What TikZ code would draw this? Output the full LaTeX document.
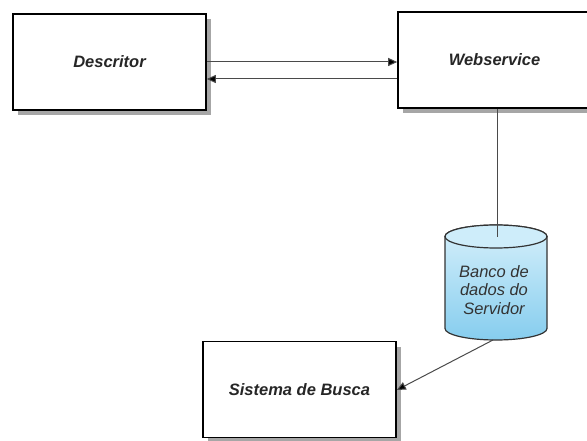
\documentclass[tikz,border=0pt]{standalone}
\usepackage{fontspec}
\setmainfont{Liberation Sans}
\usetikzlibrary{shadows,arrows.meta}
\definecolor{cylTop}{HTML}{D6F0FB}
\definecolor{cylBot}{HTML}{86CDEE}
\definecolor{lineGray}{HTML}{4A4A4A}
\tikzset{
  box/.style={draw=black, line width=1.6pt, fill=white, minimum width=193pt, minimum height=96pt,
    inner sep=0pt, font=\fontsize{16.5}{19}\selectfont\bfseries\itshape, text=black!85,
    drop shadow={shadow xshift=5pt, shadow yshift=-5pt, fill=black!35, opacity=1}},
  conn/.style={draw=lineGray, line width=1pt},
  tip/.style={-{Triangle[length=9pt,width=8pt,fill=black]}}
}
\begin{document}
\begin{tikzpicture}[x=1pt,y=-1pt]
\useasboundingbox (0,0) rectangle (587,441);
\begin{scope}
\clip (0,0) rectangle (587,441);
\node[box] (desc) at (109.5,62) {Descritor};
\node[box] (web) at (494.5,60) {Webservice};
\node[box] (busca) at (299.5,389.5) {Sistema de Busca};
% cylinder
\coordinate (cylTopC) at (496,236.5);
\coordinate (cylBotC) at (496,328.5);
\shade[top color=cylTop, bottom color=cylBot, draw=black!80, line width=1.2pt]
  (445,236.5) -- (445,328.5) arc[start angle=180, end angle=360, x radius=51, y radius=-11.5]
  -- (547,236.5) arc[start angle=0, end angle=180, x radius=51, y radius=-11.5] -- cycle;
\draw[fill=cylTop!90!cylBot, draw=black!80, line width=1.2pt] (cylTopC) ellipse[x radius=51, y radius=11.5];
\node[font=\fontsize{16.5}{18.5}\selectfont\itshape, text=black!80, align=center] (db) at (494,290) {Banco de\\dados do\\Servidor};
\coordinate (dbBottom) at (493,340);
% connectors
\draw[conn, tip] (desc.east |- 0,62) -- (web.west |- 0,62);
\draw[conn, tip] (web.west |- 0,79) -- (desc.east |- 0,79);
\draw[conn] (web.south -| 497,0) -- (497,237);
\draw[conn, tip] (dbBottom) -- (busca.east |- 0,390);
\end{scope}
\end{tikzpicture}
\end{document}
